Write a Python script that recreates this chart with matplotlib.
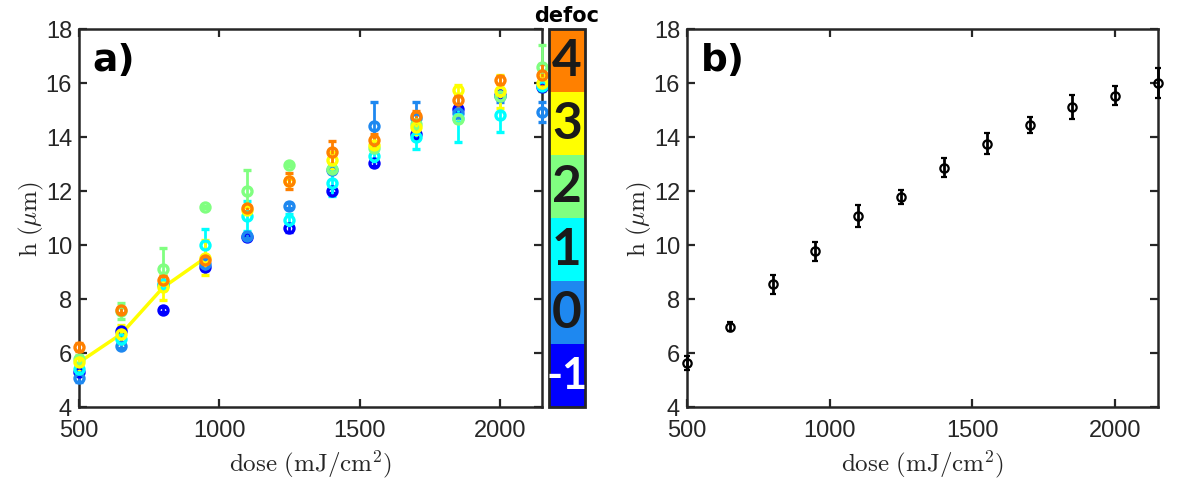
import matplotlib
matplotlib.use("Agg")
import matplotlib.pyplot as plt
import numpy as np
from matplotlib.colors import ListedColormap, BoundaryNorm
from matplotlib.cm import ScalarMappable

plt.rcParams["font.family"] = ["Liberation Sans", "DejaVu Sans"]
plt.rcParams["mathtext.fontset"] = "cm"

# data
doses = [500, 650, 800, 950, 1100, 1250, 1400, 1550, 1700, 1850, 2000, 2150]
defoc_levels = [-1, 0, 1, 2, 3, 4]
defoc_colors = ["#0000ff", "#1e88f0", "#00ffff", "#80ff80", "#ffff00", "#ff8000"]

h_defoc = {
    -1: [5.28, 6.83, 7.60, 9.17, 10.28, 10.63, 12.01, 13.02, 14.11, 15.05, 15.55, 15.85],
    0:  [5.07, 6.27, 8.50, 9.30, 10.35, 11.46, 12.78, 14.42, 14.70, 14.90, 15.50, 14.91],
    1:  [5.41, 6.52, 8.55, 9.98, 11.06, 10.93, 12.30, 13.30, 13.99, 14.70, 14.81, 15.90],
    2:  [5.78, 7.55, 9.11, 11.40, 11.99, 12.97, 12.81, 13.58, 14.49, 14.67, 15.53, 16.60],
    3:  [5.65, 6.70, 8.43, 9.52, 11.30, 12.35, 13.16, 13.70, 14.37, 15.72, 15.69, 16.00],
    4:  [6.23, 7.59, 8.70, 9.44, 11.36, 12.38, 13.43, 13.90, 14.77, 15.35, 16.12, 16.31],
}
err_defoc = {
    -1: [0.10, 0.10, 0.10, 0.10, 0.10, 0.15, 0.10, 0.10, 0.10, 0.10, 0.10, 0.10],
    0:  [0.15, 0.10, 0.10, 0.10, 0.10, 0.10, 0.10, 0.86, 0.60, 0.20, 0.20, 0.37],
    1:  [0.15, 0.15, 0.10, 0.60, 0.55, 0.20, 0.50, 0.20, 0.43, 0.90, 0.64, 0.20],
    2:  [0.15, 0.30, 0.78, 0.05, 0.78, 0.05, 0.10, 0.10, 0.10, 0.10, 0.10, 0.80],
    3:  [0.25, 0.33, 0.45, 0.65, 0.10, 0.10, 0.30, 0.10, 0.25, 0.22, 0.60, 0.30],
    4:  [0.15, 0.10, 0.15, 0.10, 0.10, 0.30, 0.43, 0.20, 0.20, 0.20, 0.15, 0.40],
}
# yellow guide line only over the first four doses
line_doses = [500, 650, 800, 950]
line_h = [5.65, 6.70, 8.43, 9.52]

h_mean = [5.62, 6.98, 8.54, 9.77, 11.07, 11.78, 12.86, 13.75, 14.44, 15.11, 15.52, 15.99]
h_mean_err = [0.25, 0.15, 0.35, 0.35, 0.40, 0.25, 0.35, 0.40, 0.30, 0.45, 0.35, 0.55]

DARK = "#262626"

fig = plt.figure(figsize=(12.04, 4.81), dpi=100)
ax_a = fig.add_axes([0.0656, 0.1518, 0.3846, 0.786])
cax = fig.add_axes([0.4560, 0.1518, 0.0299, 0.786])
ax_b = fig.add_axes([0.5706, 0.1518, 0.3912, 0.786])


def style_axes(ax):
    ax.set_xlim(500, 2150)
    ax.set_ylim(4, 18)
    ax.set_xticks([500, 1000, 1500, 2000])
    ax.set_yticks(range(4, 19, 2))
    ax.tick_params(direction="in", top=True, right=True, length=6, width=1.6,
                   labelsize=17, colors=DARK)
    ax.tick_params(axis="x", pad=9)
    ax.tick_params(axis="y", pad=5)
    for sp in ax.spines.values():
        sp.set_linewidth(1.8)
        sp.set_color(DARK)
    ax.set_xlabel(r"$\mathrm{dose\ (mJ/cm^2)}$", fontsize=18, color=DARK, labelpad=4)
    ax.set_ylabel(r"$\mathrm{h\ (}\mu\mathrm{m)}$", fontsize=18, color=DARK, labelpad=0)


# panel a
for lev, col in zip(defoc_levels, defoc_colors):
    ax_a.errorbar(doses, h_defoc[lev], yerr=err_defoc[lev], fmt="o", color=col,
                  mfc="none", mec=col, ms=6.5, mew=2.4, elinewidth=2,
                  capsize=3, capthick=2, clip_on=False, zorder=3)
    if lev == 3:
        ax_a.plot(line_doses, line_h, color=col, lw=2.5, zorder=3)
style_axes(ax_a)
ax_a.text(0.03, 0.965, "a)", transform=ax_a.transAxes, fontsize=27,
          fontweight="bold", va="top", ha="left", color="black",
          family=["DejaVu Sans"])

# colorbar
cmap = ListedColormap(defoc_colors)
norm = BoundaryNorm(np.arange(-1.5, 5.0, 1.0), cmap.N)
cb = fig.colorbar(ScalarMappable(norm=norm, cmap=cmap), cax=cax)
cb.set_ticks([])
cb.minorticks_off()
cax.tick_params(length=0)
cb.outline.set_linewidth(2)
cb.outline.set_edgecolor(DARK)
for lev in defoc_levels:
    cax.text(0.5, lev, str(lev), transform=cax.get_yaxis_transform(),
             ha="center", va="center", fontweight="bold",
             fontsize=31 if lev == -1 else 37,
             color="white" if lev == -1 else "#1a1a1a",
             family=["Lato", "DejaVu Sans"])
cax.set_title("defoc", fontsize=15, fontweight="bold", pad=6,
              family=["DejaVu Sans"])

# panel b
ax_b.errorbar(doses, h_mean, yerr=h_mean_err, fmt="o", color="black",
              mfc="none", mec="black", ms=6, mew=1.6, elinewidth=2,
              capsize=2.5, capthick=2, clip_on=False, zorder=3)
style_axes(ax_b)
ax_b.text(0.03, 0.965, "b)", transform=ax_b.transAxes, fontsize=27,
          fontweight="bold", va="top", ha="left", color="black",
          family=["DejaVu Sans"])

fig.savefig("out.png", dpi=100)
